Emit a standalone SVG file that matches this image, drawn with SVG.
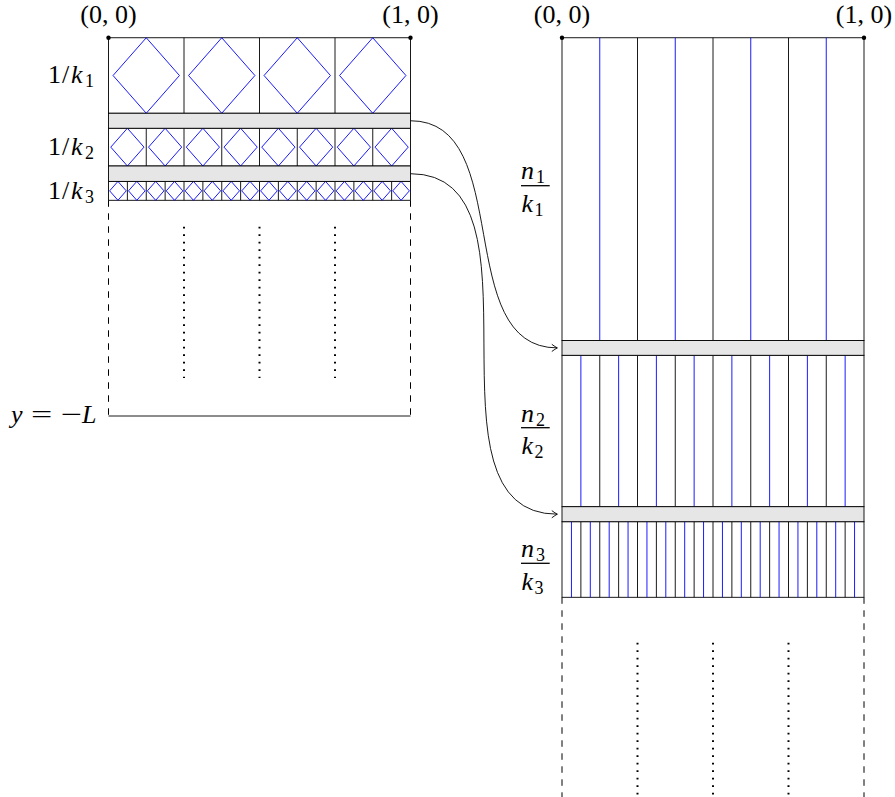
<svg xmlns="http://www.w3.org/2000/svg" xmlns:xlink="http://www.w3.org/1999/xlink" width="895" height="797" viewBox="0 0 895 797">
<style>
.blk{fill:none;stroke:#000;stroke-width:0.9}
.blu{fill:none;stroke:#0000ff;stroke-width:0.9}
.band{fill:#e6e6e6;stroke:#000;stroke-width:0.9}
.dash{fill:none;stroke:#000;stroke-width:1;stroke-dasharray:6.5 6.5}
.dot{fill:none;stroke:#000;stroke-width:2;stroke-dasharray:1.7 5.8}
.conn{fill:none;stroke:#000;stroke-width:0.9}
.lbl{font-family:"Liberation Serif","Times New Roman",serif;font-size:26px;fill:#000}
.it{font-style:italic}
.sub{font-size:18px}
</style>
<defs>
<path id="d1" class="blu" d="M0,-37.75 L33.2,0 L0,37.75 L-33.2,0 Z"/>
<path id="d2" class="blu" d="M0,-18.875 L16.6,0 L0,18.875 L-16.6,0 Z"/>
<path id="d3" class="blu" d="M0,-9.45 L8.3,0 L0,9.45 L-8.3,0 Z"/>
<marker id="arr" viewBox="-7 -5 8 10" refX="0" refY="0" markerWidth="8" markerHeight="10" markerUnits="userSpaceOnUse" orient="auto">
<path d="M-5.5,-3.6 Q-2,-1 0,0 Q-2,1 -5.5,3.6" fill="none" stroke="#000" stroke-width="0.9"/>
</marker>
</defs>

<g id="left-panel">
<g id="left-row1">
<rect class="blk" x="108.5" y="37.75" width="302" height="75.5"/>
<path class="blk" d="M184 37.75V113.25M259.5 37.75V113.25M335 37.75V113.25"/>
<use xlink:href="#d1" x="146.25" y="75.5"/>
<use xlink:href="#d1" x="221.75" y="75.5"/>
<use xlink:href="#d1" x="297.25" y="75.5"/>
<use xlink:href="#d1" x="372.75" y="75.5"/>
</g>
<g id="left-row2">
<rect class="blk" x="108.5" y="128.25" width="302" height="37.75"/>
<path class="blk" d="M146.25 128.25V166M184 128.25V166M221.75 128.25V166M259.5 128.25V166M297.25 128.25V166M335 128.25V166M372.75 128.25V166"/>
<use xlink:href="#d2" x="127.375" y="147.125"/>
<use xlink:href="#d2" x="165.125" y="147.125"/>
<use xlink:href="#d2" x="202.875" y="147.125"/>
<use xlink:href="#d2" x="240.625" y="147.125"/>
<use xlink:href="#d2" x="278.375" y="147.125"/>
<use xlink:href="#d2" x="316.125" y="147.125"/>
<use xlink:href="#d2" x="353.875" y="147.125"/>
<use xlink:href="#d2" x="391.625" y="147.125"/>
</g>
<g id="left-row3">
<rect class="blk" x="108.5" y="181.4" width="302" height="18.9"/>
<path class="blk" d="M127.375 181.4V200.3M146.25 181.4V200.3M165.125 181.4V200.3M184 181.4V200.3M202.875 181.4V200.3M221.75 181.4V200.3M240.625 181.4V200.3M259.5 181.4V200.3M278.375 181.4V200.3M297.25 181.4V200.3M316.125 181.4V200.3M335 181.4V200.3M353.875 181.4V200.3M372.75 181.4V200.3M391.625 181.4V200.3"/>
<use xlink:href="#d3" x="117.94" y="190.85"/>
<use xlink:href="#d3" x="136.81" y="190.85"/>
<use xlink:href="#d3" x="155.69" y="190.85"/>
<use xlink:href="#d3" x="174.56" y="190.85"/>
<use xlink:href="#d3" x="193.44" y="190.85"/>
<use xlink:href="#d3" x="212.31" y="190.85"/>
<use xlink:href="#d3" x="231.19" y="190.85"/>
<use xlink:href="#d3" x="250.06" y="190.85"/>
<use xlink:href="#d3" x="268.94" y="190.85"/>
<use xlink:href="#d3" x="287.81" y="190.85"/>
<use xlink:href="#d3" x="306.69" y="190.85"/>
<use xlink:href="#d3" x="325.56" y="190.85"/>
<use xlink:href="#d3" x="344.44" y="190.85"/>
<use xlink:href="#d3" x="363.31" y="190.85"/>
<use xlink:href="#d3" x="382.19" y="190.85"/>
<use xlink:href="#d3" x="401.06" y="190.85"/>
</g>
<g id="left-bands">
<rect class="band" x="108.5" y="113.25" width="302" height="15"/>
<rect class="band" x="108.5" y="166" width="302" height="15.4"/>
</g>
<g id="left-tail">
<path class="dash" d="M108.5 200.3V416M410.5 200.3V416"/>
<path class="blk" d="M108.5 416H410.5"/>
<path class="dot" d="M184 226.7V378M259.5 226.7V378M335 226.7V378"/>
</g>
<circle cx="108.5" cy="37.75" r="2.2" fill="#000"/>
<circle cx="410.5" cy="37.75" r="2.2" fill="#000"/>
</g>

<g id="right-panel">
<g id="right-row1">
<rect class="blk" x="562" y="37.75" width="302" height="302.75"/>
<path class="blk" d="M637.5 37.75V340.5M713 37.75V340.5M788.5 37.75V340.5"/>
<path class="blu" d="M599.75 37.75V340.5M675.25 37.75V340.5M750.75 37.75V340.5M826.25 37.75V340.5"/>
</g>
<g id="right-row2">
<rect class="blk" x="562" y="355.3" width="302" height="151.4"/>
<path class="blk" d="M599.75 355.3V506.7M637.5 355.3V506.7M675.25 355.3V506.7M713 355.3V506.7M750.75 355.3V506.7M788.5 355.3V506.7M826.25 355.3V506.7"/>
<path class="blu" d="M580.875 355.3V506.7M618.625 355.3V506.7M656.375 355.3V506.7M694.125 355.3V506.7M731.875 355.3V506.7M769.625 355.3V506.7M807.375 355.3V506.7M845.125 355.3V506.7"/>
</g>
<g id="right-row3">
<rect class="blk" x="562" y="521.7" width="302" height="75.6"/>
<path class="blk" d="M580.875 521.7V597.3M599.75 521.7V597.3M618.625 521.7V597.3M637.5 521.7V597.3M656.375 521.7V597.3M675.25 521.7V597.3M694.125 521.7V597.3M713 521.7V597.3M731.875 521.7V597.3M750.75 521.7V597.3M769.625 521.7V597.3M788.5 521.7V597.3M807.375 521.7V597.3M826.25 521.7V597.3M845.125 521.7V597.3"/>
<path class="blu" d="M571.44 521.7V597.3M590.31 521.7V597.3M609.19 521.7V597.3M628.06 521.7V597.3M646.94 521.7V597.3M665.81 521.7V597.3M684.69 521.7V597.3M703.56 521.7V597.3M722.44 521.7V597.3M741.31 521.7V597.3M760.19 521.7V597.3M779.06 521.7V597.3M797.94 521.7V597.3M816.81 521.7V597.3M835.69 521.7V597.3M854.56 521.7V597.3"/>
</g>
<g id="right-bands">
<rect class="band" x="562" y="340.5" width="302" height="14.8"/>
<rect class="band" x="562" y="506.7" width="302" height="15"/>
</g>
<g id="right-tail">
<path class="dash" d="M562 597.3V797M864 597.3V797"/>
<path class="dot" d="M637.5 642.7V797M713 642.7V797M788.5 642.7V797"/>
</g>
<circle cx="562" cy="37.75" r="2.2" fill="#000"/>
<circle cx="864" cy="37.75" r="2.2" fill="#000"/>
</g>

<g id="connectors">
<path class="conn" d="M410.5,120.75 C516,120.75 451,347.9 557.3,347.9" marker-end="url(#arr)"/>
<path class="conn" d="M410.5,173.7 C555.6,173.7 412.3,514.2 557.3,514.2" marker-end="url(#arr)"/>
</g>

<g id="labels">
<text class="lbl" x="108.5" y="23" text-anchor="middle">(0, 0)</text>
<text class="lbl" x="410.5" y="23" text-anchor="middle">(1, 0)</text>
<text class="lbl" x="562" y="23" text-anchor="middle">(0, 0)</text>
<text class="lbl" x="864" y="23" text-anchor="middle">(1, 0)</text>
<text class="lbl" y="83"><tspan x="48">1</tspan><tspan x="62">/</tspan><tspan class="it" x="71">k</tspan><tspan class="sub" x="85" dy="4">1</tspan></text>
<text class="lbl" y="155"><tspan x="48">1</tspan><tspan x="62">/</tspan><tspan class="it" x="71">k</tspan><tspan class="sub" x="85" dy="4">2</tspan></text>
<text class="lbl" y="199"><tspan x="48">1</tspan><tspan x="62">/</tspan><tspan class="it" x="71">k</tspan><tspan class="sub" x="85" dy="4">3</tspan></text>
<g id="eqL">
<text class="lbl it" x="11" y="423">y</text>
<text class="lbl" transform="translate(41.7,423) scale(1.45,1)" text-anchor="middle">=</text>
<text class="lbl" transform="translate(71.7,423) scale(1.45,1)" text-anchor="middle">−</text>
<text class="lbl it" x="82" y="423">L</text>
</g>
<g id="frac1">
<text class="lbl" y="179"><tspan class="it" x="521">n</tspan><tspan class="sub" x="536" dy="4">1</tspan></text>
<path d="M521 185.7H549.7" stroke="#000" stroke-width="1.3"/>
<text class="lbl" y="212"><tspan class="it" x="521.5">k</tspan><tspan class="sub" x="534.5" dy="4">1</tspan></text>
</g>
<g id="frac2">
<text class="lbl" y="421.5"><tspan class="it" x="521">n</tspan><tspan class="sub" x="536" dy="4">2</tspan></text>
<path d="M521 427.7H549.7" stroke="#000" stroke-width="1.3"/>
<text class="lbl" y="454"><tspan class="it" x="521.5">k</tspan><tspan class="sub" x="534.5" dy="4">2</tspan></text>
</g>
<g id="frac3">
<text class="lbl" y="557"><tspan class="it" x="521">n</tspan><tspan class="sub" x="536" dy="4">3</tspan></text>
<path d="M521 563.3H549.7" stroke="#000" stroke-width="1.3"/>
<text class="lbl" y="590"><tspan class="it" x="521.5">k</tspan><tspan class="sub" x="534.5" dy="4">3</tspan></text>
</g>
</g>
</svg>
